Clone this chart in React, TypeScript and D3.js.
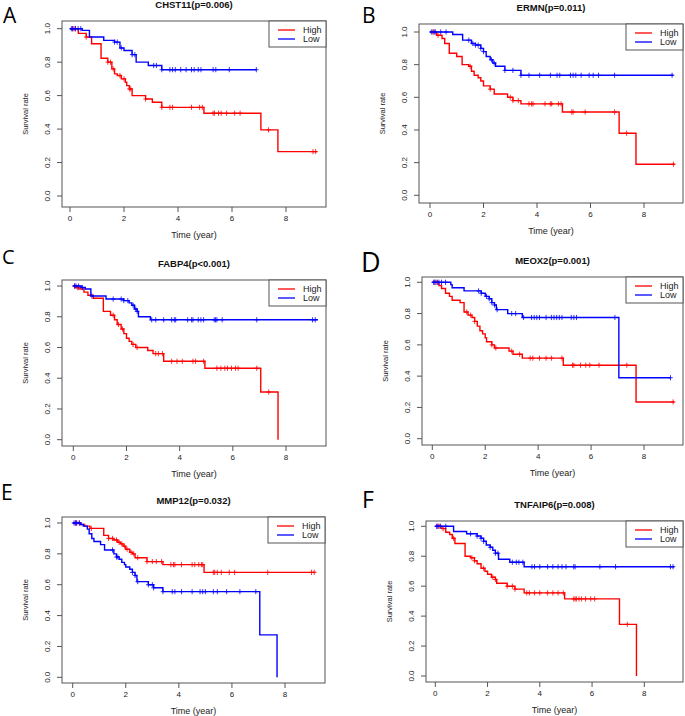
import React from 'react';
import * as d3 from 'd3';

type Step = [number, number];

const panelLetters = ['A', 'B', 'C', 'D', 'E', 'F'];
const geneTitles = ['CHST11(p=0.006)', 'ERMN(p=0.011)', 'FABP4(p<0.001)', 'MEOX2(p=0.001)', 'MMP12(p=0.032)', 'TNFAIP6(p=0.008)'];
const xTicks = [0, 2, 4, 6, 8];
const yTicks = [0, 0.2, 0.4, 0.6, 0.8, 1.0];
const legendLabels = ['High', 'Low'];
const seriesColors = ['#FF0000', '#0000FF'];
const xAxisTitle = 'Time (year)';
const yAxisTitle = 'Survival rate';

// Kaplan-Meier steps: [time, survival after this time]
const aHigh: Step[] = [[0, 1], [0.31, 0.972], [0.6, 0.95], [0.8, 0.91], [1.15, 0.823], [1.4, 0.8], [1.55, 0.76], [1.65, 0.73], [1.75, 0.72], [1.9, 0.7], [2.05, 0.68], [2.1, 0.66], [2.2, 0.64], [2.3, 0.6], [2.8, 0.58], [3.05, 0.56], [3.4, 0.53], [4.96, 0.495], [7.07, 0.395], [7.7, 0.265], [9.15, 0.265]];
const aLow: Step[] = [[0, 1], [0.45, 0.99], [0.72, 0.95], [1.25, 0.93], [1.65, 0.92], [1.85, 0.885], [2.0, 0.87], [2.3, 0.845], [2.45, 0.8], [2.9, 0.78], [3.4, 0.755], [6.9, 0.755]];
const aHighCens = [0.1, 0.15, 0.2, 0.6, 1.4, 1.5, 1.6, 1.85, 2.0, 2.2, 2.25, 2.8, 3.4, 3.7, 3.8, 4.5, 4.8, 4.9, 5.3, 5.35, 5.5, 5.6, 5.8, 6.1, 6.3, 7.35, 9.0, 9.1];
const aLowCens = [0.05, 0.1, 0.2, 0.3, 0.4, 1.65, 1.75, 1.9, 2.3, 2.4, 3.1, 3.2, 3.4, 3.7, 3.8, 3.9, 4.1, 4.3, 4.5, 4.6, 4.75, 4.85, 5.3, 5.4, 5.9, 6.9];

const bHigh: Step[] = [[0, 1], [0.25, 0.98], [0.45, 0.96], [0.55, 0.93], [0.72, 0.87], [1.0, 0.85], [1.2, 0.8], [1.45, 0.79], [1.55, 0.76], [1.65, 0.735], [1.8, 0.72], [1.9, 0.7], [2.0, 0.67], [2.25, 0.65], [2.4, 0.62], [2.9, 0.6], [3.1, 0.58], [3.4, 0.56], [4.95, 0.51], [7.07, 0.38], [7.7, 0.19], [9.15, 0.19]];
const bLow: Step[] = [[0, 1], [0.85, 0.985], [1.22, 0.95], [1.55, 0.93], [1.7, 0.92], [1.9, 0.9], [2.0, 0.88], [2.1, 0.85], [2.25, 0.83], [2.35, 0.81], [2.45, 0.79], [2.8, 0.765], [3.4, 0.735], [9.1, 0.735]];
const bHighCens = [0.1, 0.15, 0.3, 1.5, 2.25, 3.0, 3.1, 3.3, 3.7, 3.8, 3.85, 4.3, 4.5, 4.55, 4.8, 4.9, 5.3, 5.35, 5.8, 6.9, 7.35, 9.1];
const bLowCens = [0.05, 0.15, 0.2, 0.4, 0.6, 1.45, 1.6, 1.7, 1.8, 1.9, 2.0, 2.3, 2.4, 2.8, 3.1, 3.4, 3.7, 4.1, 4.5, 4.75, 4.85, 5.25, 5.35, 5.45, 5.65, 5.95, 6.1, 6.3, 6.9, 9.05];

const cHigh: Step[] = [[0, 1], [0.1, 0.99], [0.25, 0.98], [0.4, 0.96], [0.55, 0.94], [0.75, 0.92], [1.13, 0.835], [1.4, 0.81], [1.55, 0.78], [1.65, 0.75], [1.8, 0.72], [1.9, 0.69], [2.0, 0.66], [2.1, 0.64], [2.2, 0.62], [2.35, 0.6], [2.8, 0.58], [3.0, 0.56], [3.4, 0.51], [4.95, 0.465], [7.05, 0.31], [7.7, 0.0]];
const cLow: Step[] = [[0, 1], [0.3, 0.99], [0.45, 0.98], [0.66, 0.935], [1.23, 0.915], [1.9, 0.905], [2.1, 0.89], [2.2, 0.875], [2.3, 0.85], [2.4, 0.835], [2.45, 0.8], [2.9, 0.78], [9.2, 0.78]];
const cHighCens = [0.05, 0.15, 0.2, 1.5, 1.7, 1.85, 2.25, 2.4, 3.1, 3.2, 3.35, 3.7, 3.9, 4.1, 4.5, 4.6, 4.9, 5.4, 5.55, 5.7, 5.8, 5.95, 6.1, 6.2, 6.9, 7.35];
const cLowCens = [0.05, 0.1, 0.2, 0.35, 0.7, 1.5, 1.8, 1.9, 2.05, 2.25, 2.35, 2.4, 2.95, 3.1, 3.4, 3.7, 3.8, 3.85, 4.3, 4.45, 4.5, 4.7, 4.8, 4.9, 5.3, 5.35, 5.4, 5.6, 6.9, 9.0, 9.1];

const dHigh: Step[] = [[0, 1], [0.25, 0.98], [0.35, 0.96], [0.5, 0.93], [0.65, 0.91], [0.75, 0.885], [1.05, 0.87], [1.2, 0.81], [1.35, 0.79], [1.5, 0.775], [1.6, 0.75], [1.7, 0.72], [1.8, 0.69], [1.9, 0.67], [2.0, 0.645], [2.05, 0.62], [2.25, 0.6], [2.35, 0.58], [2.9, 0.56], [3.05, 0.54], [3.4, 0.515], [4.95, 0.47], [7.7, 0.235], [9.15, 0.235]];
const dLow: Step[] = [[0, 1], [0.7, 0.985], [0.75, 0.965], [1.2, 0.945], [1.85, 0.93], [2.0, 0.91], [2.15, 0.895], [2.25, 0.87], [2.35, 0.855], [2.42, 0.825], [2.85, 0.8], [3.4, 0.775], [7.05, 0.39], [9.0, 0.39]];
const dHighCens = [0.1, 0.15, 1.3, 1.45, 1.6, 2.25, 2.4, 3.0, 3.3, 3.7, 3.8, 4.05, 4.3, 4.5, 4.9, 5.3, 5.35, 5.6, 5.8, 5.95, 6.3, 7.35, 9.1];
const dLowCens = [0.05, 0.1, 0.2, 0.25, 0.35, 0.5, 1.75, 1.85, 2.05, 2.15, 2.25, 2.35, 2.45, 3.0, 3.15, 3.45, 3.75, 3.85, 3.95, 4.05, 4.3, 4.5, 4.6, 4.7, 4.8, 4.9, 5.25, 5.35, 5.45, 6.9, 9.0];

const eHigh: Step[] = [[0, 1], [0.3, 0.99], [0.45, 0.98], [0.65, 0.965], [1.17, 0.92], [1.35, 0.9], [1.55, 0.89], [1.7, 0.875], [1.8, 0.865], [1.9, 0.85], [2.0, 0.83], [2.15, 0.81], [2.25, 0.8], [2.35, 0.775], [2.8, 0.75], [3.4, 0.73], [4.95, 0.68], [9.15, 0.68]];
const eLow: Step[] = [[0, 1], [0.3, 0.99], [0.4, 0.98], [0.55, 0.96], [0.62, 0.93], [0.72, 0.9], [0.8, 0.88], [1.05, 0.86], [1.2, 0.825], [1.55, 0.8], [1.65, 0.78], [1.75, 0.765], [1.85, 0.745], [1.95, 0.73], [2.0, 0.715], [2.15, 0.7], [2.25, 0.68], [2.35, 0.66], [2.42, 0.62], [2.85, 0.6], [3.05, 0.58], [3.4, 0.555], [7.05, 0.275], [7.7, 0.0]];
const eHighCens = [0.1, 0.15, 0.25, 0.7, 1.35, 1.5, 1.65, 1.75, 1.85, 1.95, 2.05, 2.2, 2.3, 2.45, 2.8, 3.0, 3.15, 3.35, 3.7, 3.8, 3.85, 4.1, 4.5, 4.6, 4.75, 4.85, 4.9, 5.3, 5.35, 5.45, 5.6, 5.9, 6.1, 7.35, 9.0, 9.1];
const eLowCens = [0.05, 0.1, 0.15, 0.25, 1.5, 1.65, 1.7, 2.25, 2.35, 2.45, 2.85, 3.0, 3.05, 3.4, 3.75, 3.85, 4.1, 4.5, 4.8, 4.9, 5.0, 5.3, 5.45, 5.8, 6.3, 6.9];

const fHigh: Step[] = [[0, 1], [0.25, 0.985], [0.4, 0.96], [0.55, 0.945], [0.65, 0.92], [0.75, 0.885], [1.14, 0.8], [1.35, 0.79], [1.5, 0.77], [1.6, 0.75], [1.75, 0.72], [1.9, 0.7], [2.0, 0.68], [2.15, 0.66], [2.3, 0.645], [2.35, 0.62], [2.75, 0.6], [3.05, 0.58], [3.4, 0.555], [4.95, 0.515], [7.05, 0.345], [7.7, 0.0]];
const fLow: Step[] = [[0, 1], [0.7, 0.965], [1.2, 0.95], [1.6, 0.935], [1.75, 0.92], [1.85, 0.9], [1.95, 0.875], [2.1, 0.86], [2.2, 0.84], [2.3, 0.82], [2.42, 0.78], [2.85, 0.76], [3.4, 0.73], [9.15, 0.73]];
const fHighCens = [0.1, 0.15, 0.3, 0.7, 1.4, 1.5, 1.85, 2.2, 2.3, 2.75, 2.95, 3.05, 3.5, 3.6, 3.8, 4.0, 4.3, 4.5, 4.7, 4.9, 5.3, 5.35, 5.4, 5.5, 5.6, 5.75, 5.95, 6.1, 7.35];
const fLowCens = [0.05, 0.1, 0.2, 0.4, 1.35, 1.6, 1.75, 1.85, 2.1, 2.3, 2.4, 2.95, 3.1, 3.2, 3.35, 3.7, 3.8, 4.0, 4.3, 4.5, 4.7, 4.85, 5.0, 5.3, 5.35, 6.3, 6.9, 9.0, 9.1];

const highSeries = [aHigh, bHigh, cHigh, dHigh, eHigh, fHigh];
const lowSeries = [aLow, bLow, cLow, dLow, eLow, fLow];
const highCensors = [aHighCens, bHighCens, cHighCens, dHighCens, eHighCens, fHighCens];
const lowCensors = [aLowCens, bLowCens, cLowCens, dLowCens, eLowCens, fLowCens];

// Layout (pixel geometry) per panel
const layouts = [
  { l: 62, r: 326, t: 21, b: 207, x0: 70, x8: 286, y0: 196, y1: 28.7, lx: 3, ly: 22.5, ls: 21 },
  { l: 419, r: 683, t: 24, b: 203, x0: 430, x8: 644, y0: 195.3, y1: 32, lx: 362, ly: 22.5, ls: 21 },
  { l: 62, r: 326, t: 280, b: 446, x0: 73.3, x8: 286, y0: 439.7, y1: 286, lx: 2, ly: 264, ls: 20 },
  { l: 422, r: 683, t: 277, b: 445, x0: 432.3, x8: 644, y0: 438.7, y1: 282.3, lx: 361, ly: 272, ls: 27 },
  { l: 62, r: 325, t: 517, b: 683, x0: 72.7, x8: 285, y0: 677.3, y1: 523, lx: 1, ly: 500, ls: 21 },
  { l: 426, r: 683, t: 521, b: 682, x0: 435.3, x8: 644.3, y0: 676, y1: 526.3, lx: 362, ly: 508, ls: 23 },
];

const FONT = "'Liberation Sans', Arial, Helvetica, sans-serif";
const AXIS = '#555';

function levelAt(steps: Step[], t: number): number {
  let v = steps[0][1];
  for (const s of steps) {
    if (s[0] <= t + 1e-9) v = s[1];
    else break;
  }
  return v;
}

function Panel({ i }: { i: number }) {
  const L = layouts[i];
  const xs = d3.scaleLinear().domain([0, 8]).range([L.x0, L.x8]);
  const ys = d3.scaleLinear().domain([0, 1]).range([L.y0, L.y1]);
  const line = d3
    .line<Step>()
    .x((d) => xs(d[0]))
    .y((d) => ys(d[1]))
    .curve(d3.curveStepAfter);
  const fmt = d3.format('.1f');
  const cx = (L.l + L.r) / 2;
  const cy = (L.t + L.b) / 2;
  const series = [
    { steps: highSeries[i], cens: highCensors[i], color: seriesColors[0] },
    { steps: lowSeries[i], cens: lowCensors[i], color: seriesColors[1] },
  ];
  const lgL = L.r - 57;
  return (
    <g>
      <text x={L.lx} y={L.ly} fontFamily="'Open Sans', sans-serif" fontSize={L.ls} fill="#000">
        {panelLetters[i]}
      </text>
      <text x={cx} y={L.t - 16} dy="0.35em" textAnchor="middle" fontFamily={FONT} fontWeight="bold" fontSize={9.5} fill="#111">
        {geneTitles[i]}
      </text>
      {series.map((s, k) => (
        <g key={k}>
          <path d={line(s.steps) || ''} fill="none" stroke={s.color} strokeWidth={1.4} />
          {s.cens.map((c, j) => {
            const px = xs(c);
            const py = ys(levelAt(s.steps, c));
            return (
              <path
                key={j}
                d={`M${px - 2.3},${py}H${px + 2.3}M${px},${py - 2.6}V${py + 2.6}`}
                stroke={s.color}
                strokeOpacity={0.8}
                strokeWidth={1}
                fill="none"
              />
            );
          })}
        </g>
      ))}
      <rect x={L.l} y={L.t} width={L.r - L.l} height={L.b - L.t} fill="none" stroke={AXIS} strokeWidth={1} />
      {xTicks.map((v) => (
        <g key={'x' + v}>
          <line x1={xs(v)} x2={xs(v)} y1={L.b} y2={L.b + 5} stroke={AXIS} />
          <text x={xs(v)} y={L.b + 11} dy="0.35em" textAnchor="middle" fontFamily={FONT} fontSize={8} fill="#222">
            {v}
          </text>
        </g>
      ))}
      {yTicks.map((v) => (
        <g key={'y' + v}>
          <line x1={L.l} x2={L.l - 5} y1={ys(v)} y2={ys(v)} stroke={AXIS} />
          <text
            transform={`translate(${L.l - 15},${ys(v)}) rotate(-90)`}
            dy="0.35em"
            textAnchor="middle"
            fontFamily={FONT}
            fontSize={8}
            fill="#222"
          >
            {fmt(v)}
          </text>
        </g>
      ))}
      <text x={cx} y={L.b + 31} textAnchor="middle" fontFamily={FONT} fontSize={9} fill="#222">
        {xAxisTitle}
      </text>
      <text
        transform={`translate(${L.l - 37},${cy}) rotate(-90)`}
        dy="0.35em"
        textAnchor="middle"
        fontFamily={FONT}
        fontSize={7.5}
        fill="#222"
      >
        {yAxisTitle}
      </text>
      <rect x={lgL} y={L.t} width={L.r - lgL} height={26} fill="#fff" stroke={AXIS} strokeWidth={1} />
      {legendLabels.map((lab, k) => (
        <g key={lab}>
          <line x1={L.r - 48} x2={L.r - 31} y1={L.t + 9 + k * 9} y2={L.t + 9 + k * 9} stroke={seriesColors[k]} strokeWidth={1.3} />
          <text x={L.r - 23} y={L.t + 9 + k * 9} dy="0.35em" fontFamily={FONT} fontSize={9} fill="#222">
            {lab}
          </text>
        </g>
      ))}
    </g>
  );
}

export default function App() {
  return (
    <svg
      width={685}
      height={716}
      viewBox="0 0 685 716"
      style={{ position: 'absolute', left: 0, top: 0, background: '#fff' }}
    >
      <rect x={0} y={0} width={685} height={716} fill="#fff" />
      {panelLetters.map((_, i) => (
        <Panel key={i} i={i} />
      ))}
    </svg>
  );
}
